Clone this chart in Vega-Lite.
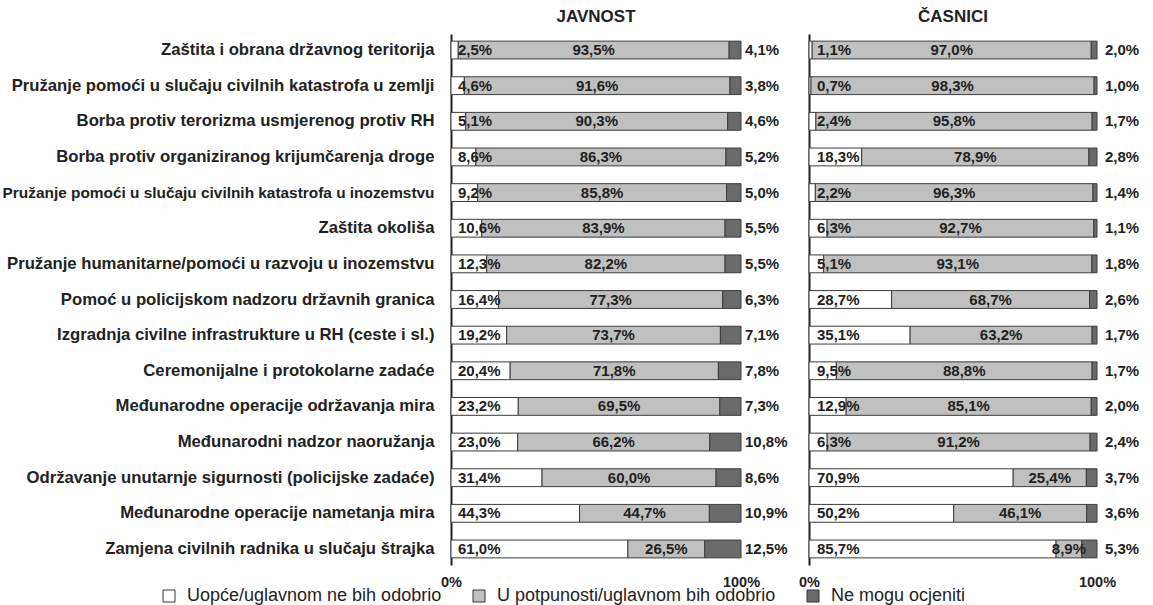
{
  "$schema": "https://vega.github.io/schema/vega-lite/v6.json",
  "background": "white",
  "padding": {"left": 2, "top": 8, "right": 5, "bottom": 0},
  "config": {
    "font": "Liberation Sans",
    "view": {"stroke": null},
    "concat": {"spacing": 10}
  },
  "datasets": {
    "d": [
      {"group": "JAVNOST", "category": "Zaštita i obrana državnog teritorija", "series": "Uopće/uglavnom ne bih odobrio", "order": 1, "value": 2.5},
      {"group": "JAVNOST", "category": "Zaštita i obrana državnog teritorija", "series": "U potpunosti/uglavnom bih odobrio", "order": 2, "value": 93.5},
      {"group": "JAVNOST", "category": "Zaštita i obrana državnog teritorija", "series": "Ne mogu ocjeniti", "order": 3, "value": 4.1},
      {"group": "JAVNOST", "category": "Pružanje pomoći u slučaju civilnih katastrofa u zemlji", "series": "Uopće/uglavnom ne bih odobrio", "order": 1, "value": 4.6},
      {"group": "JAVNOST", "category": "Pružanje pomoći u slučaju civilnih katastrofa u zemlji", "series": "U potpunosti/uglavnom bih odobrio", "order": 2, "value": 91.6},
      {"group": "JAVNOST", "category": "Pružanje pomoći u slučaju civilnih katastrofa u zemlji", "series": "Ne mogu ocjeniti", "order": 3, "value": 3.8},
      {"group": "JAVNOST", "category": "Borba protiv terorizma usmjerenog protiv RH", "series": "Uopće/uglavnom ne bih odobrio", "order": 1, "value": 5.1},
      {"group": "JAVNOST", "category": "Borba protiv terorizma usmjerenog protiv RH", "series": "U potpunosti/uglavnom bih odobrio", "order": 2, "value": 90.3},
      {"group": "JAVNOST", "category": "Borba protiv terorizma usmjerenog protiv RH", "series": "Ne mogu ocjeniti", "order": 3, "value": 4.6},
      {"group": "JAVNOST", "category": "Borba protiv organiziranog krijumčarenja droge", "series": "Uopće/uglavnom ne bih odobrio", "order": 1, "value": 8.6},
      {"group": "JAVNOST", "category": "Borba protiv organiziranog krijumčarenja droge", "series": "U potpunosti/uglavnom bih odobrio", "order": 2, "value": 86.3},
      {"group": "JAVNOST", "category": "Borba protiv organiziranog krijumčarenja droge", "series": "Ne mogu ocjeniti", "order": 3, "value": 5.2},
      {"group": "JAVNOST", "category": "Pružanje pomoći u slučaju civilnih katastrofa u inozemstvu", "series": "Uopće/uglavnom ne bih odobrio", "order": 1, "value": 9.2},
      {"group": "JAVNOST", "category": "Pružanje pomoći u slučaju civilnih katastrofa u inozemstvu", "series": "U potpunosti/uglavnom bih odobrio", "order": 2, "value": 85.8},
      {"group": "JAVNOST", "category": "Pružanje pomoći u slučaju civilnih katastrofa u inozemstvu", "series": "Ne mogu ocjeniti", "order": 3, "value": 5.0},
      {"group": "JAVNOST", "category": "Zaštita okoliša", "series": "Uopće/uglavnom ne bih odobrio", "order": 1, "value": 10.6},
      {"group": "JAVNOST", "category": "Zaštita okoliša", "series": "U potpunosti/uglavnom bih odobrio", "order": 2, "value": 83.9},
      {"group": "JAVNOST", "category": "Zaštita okoliša", "series": "Ne mogu ocjeniti", "order": 3, "value": 5.5},
      {"group": "JAVNOST", "category": "Pružanje humanitarne/pomoći u razvoju u inozemstvu", "series": "Uopće/uglavnom ne bih odobrio", "order": 1, "value": 12.3},
      {"group": "JAVNOST", "category": "Pružanje humanitarne/pomoći u razvoju u inozemstvu", "series": "U potpunosti/uglavnom bih odobrio", "order": 2, "value": 82.2},
      {"group": "JAVNOST", "category": "Pružanje humanitarne/pomoći u razvoju u inozemstvu", "series": "Ne mogu ocjeniti", "order": 3, "value": 5.5},
      {"group": "JAVNOST", "category": "Pomoć u policijskom nadzoru državnih granica", "series": "Uopće/uglavnom ne bih odobrio", "order": 1, "value": 16.4},
      {"group": "JAVNOST", "category": "Pomoć u policijskom nadzoru državnih granica", "series": "U potpunosti/uglavnom bih odobrio", "order": 2, "value": 77.3},
      {"group": "JAVNOST", "category": "Pomoć u policijskom nadzoru državnih granica", "series": "Ne mogu ocjeniti", "order": 3, "value": 6.3},
      {"group": "JAVNOST", "category": "Izgradnja civilne infrastrukture u RH (ceste i sl.)", "series": "Uopće/uglavnom ne bih odobrio", "order": 1, "value": 19.2},
      {"group": "JAVNOST", "category": "Izgradnja civilne infrastrukture u RH (ceste i sl.)", "series": "U potpunosti/uglavnom bih odobrio", "order": 2, "value": 73.7},
      {"group": "JAVNOST", "category": "Izgradnja civilne infrastrukture u RH (ceste i sl.)", "series": "Ne mogu ocjeniti", "order": 3, "value": 7.1},
      {"group": "JAVNOST", "category": "Ceremonijalne i protokolarne zadaće", "series": "Uopće/uglavnom ne bih odobrio", "order": 1, "value": 20.4},
      {"group": "JAVNOST", "category": "Ceremonijalne i protokolarne zadaće", "series": "U potpunosti/uglavnom bih odobrio", "order": 2, "value": 71.8},
      {"group": "JAVNOST", "category": "Ceremonijalne i protokolarne zadaće", "series": "Ne mogu ocjeniti", "order": 3, "value": 7.8},
      {"group": "JAVNOST", "category": "Međunarodne operacije održavanja mira", "series": "Uopće/uglavnom ne bih odobrio", "order": 1, "value": 23.2},
      {"group": "JAVNOST", "category": "Međunarodne operacije održavanja mira", "series": "U potpunosti/uglavnom bih odobrio", "order": 2, "value": 69.5},
      {"group": "JAVNOST", "category": "Međunarodne operacije održavanja mira", "series": "Ne mogu ocjeniti", "order": 3, "value": 7.3},
      {"group": "JAVNOST", "category": "Međunarodni nadzor naoružanja", "series": "Uopće/uglavnom ne bih odobrio", "order": 1, "value": 23.0},
      {"group": "JAVNOST", "category": "Međunarodni nadzor naoružanja", "series": "U potpunosti/uglavnom bih odobrio", "order": 2, "value": 66.2},
      {"group": "JAVNOST", "category": "Međunarodni nadzor naoružanja", "series": "Ne mogu ocjeniti", "order": 3, "value": 10.8},
      {"group": "JAVNOST", "category": "Održavanje unutarnje sigurnosti (policijske zadaće)", "series": "Uopće/uglavnom ne bih odobrio", "order": 1, "value": 31.4},
      {"group": "JAVNOST", "category": "Održavanje unutarnje sigurnosti (policijske zadaće)", "series": "U potpunosti/uglavnom bih odobrio", "order": 2, "value": 60.0},
      {"group": "JAVNOST", "category": "Održavanje unutarnje sigurnosti (policijske zadaće)", "series": "Ne mogu ocjeniti", "order": 3, "value": 8.6},
      {"group": "JAVNOST", "category": "Međunarodne operacije nametanja mira", "series": "Uopće/uglavnom ne bih odobrio", "order": 1, "value": 44.3},
      {"group": "JAVNOST", "category": "Međunarodne operacije nametanja mira", "series": "U potpunosti/uglavnom bih odobrio", "order": 2, "value": 44.7},
      {"group": "JAVNOST", "category": "Međunarodne operacije nametanja mira", "series": "Ne mogu ocjeniti", "order": 3, "value": 10.9},
      {"group": "JAVNOST", "category": "Zamjena civilnih radnika u slučaju štrajka", "series": "Uopće/uglavnom ne bih odobrio", "order": 1, "value": 61.0},
      {"group": "JAVNOST", "category": "Zamjena civilnih radnika u slučaju štrajka", "series": "U potpunosti/uglavnom bih odobrio", "order": 2, "value": 26.5},
      {"group": "JAVNOST", "category": "Zamjena civilnih radnika u slučaju štrajka", "series": "Ne mogu ocjeniti", "order": 3, "value": 12.5},

      {"group": "ČASNICI", "category": "Zaštita i obrana državnog teritorija", "series": "Uopće/uglavnom ne bih odobrio", "order": 1, "value": 1.1},
      {"group": "ČASNICI", "category": "Zaštita i obrana državnog teritorija", "series": "U potpunosti/uglavnom bih odobrio", "order": 2, "value": 97.0},
      {"group": "ČASNICI", "category": "Zaštita i obrana državnog teritorija", "series": "Ne mogu ocjeniti", "order": 3, "value": 2.0},
      {"group": "ČASNICI", "category": "Pružanje pomoći u slučaju civilnih katastrofa u zemlji", "series": "Uopće/uglavnom ne bih odobrio", "order": 1, "value": 0.7},
      {"group": "ČASNICI", "category": "Pružanje pomoći u slučaju civilnih katastrofa u zemlji", "series": "U potpunosti/uglavnom bih odobrio", "order": 2, "value": 98.3},
      {"group": "ČASNICI", "category": "Pružanje pomoći u slučaju civilnih katastrofa u zemlji", "series": "Ne mogu ocjeniti", "order": 3, "value": 1.0},
      {"group": "ČASNICI", "category": "Borba protiv terorizma usmjerenog protiv RH", "series": "Uopće/uglavnom ne bih odobrio", "order": 1, "value": 2.4},
      {"group": "ČASNICI", "category": "Borba protiv terorizma usmjerenog protiv RH", "series": "U potpunosti/uglavnom bih odobrio", "order": 2, "value": 95.8},
      {"group": "ČASNICI", "category": "Borba protiv terorizma usmjerenog protiv RH", "series": "Ne mogu ocjeniti", "order": 3, "value": 1.7},
      {"group": "ČASNICI", "category": "Borba protiv organiziranog krijumčarenja droge", "series": "Uopće/uglavnom ne bih odobrio", "order": 1, "value": 18.3},
      {"group": "ČASNICI", "category": "Borba protiv organiziranog krijumčarenja droge", "series": "U potpunosti/uglavnom bih odobrio", "order": 2, "value": 78.9},
      {"group": "ČASNICI", "category": "Borba protiv organiziranog krijumčarenja droge", "series": "Ne mogu ocjeniti", "order": 3, "value": 2.8},
      {"group": "ČASNICI", "category": "Pružanje pomoći u slučaju civilnih katastrofa u inozemstvu", "series": "Uopće/uglavnom ne bih odobrio", "order": 1, "value": 2.2},
      {"group": "ČASNICI", "category": "Pružanje pomoći u slučaju civilnih katastrofa u inozemstvu", "series": "U potpunosti/uglavnom bih odobrio", "order": 2, "value": 96.3},
      {"group": "ČASNICI", "category": "Pružanje pomoći u slučaju civilnih katastrofa u inozemstvu", "series": "Ne mogu ocjeniti", "order": 3, "value": 1.4},
      {"group": "ČASNICI", "category": "Zaštita okoliša", "series": "Uopće/uglavnom ne bih odobrio", "order": 1, "value": 6.3},
      {"group": "ČASNICI", "category": "Zaštita okoliša", "series": "U potpunosti/uglavnom bih odobrio", "order": 2, "value": 92.7},
      {"group": "ČASNICI", "category": "Zaštita okoliša", "series": "Ne mogu ocjeniti", "order": 3, "value": 1.1},
      {"group": "ČASNICI", "category": "Pružanje humanitarne/pomoći u razvoju u inozemstvu", "series": "Uopće/uglavnom ne bih odobrio", "order": 1, "value": 5.1},
      {"group": "ČASNICI", "category": "Pružanje humanitarne/pomoći u razvoju u inozemstvu", "series": "U potpunosti/uglavnom bih odobrio", "order": 2, "value": 93.1},
      {"group": "ČASNICI", "category": "Pružanje humanitarne/pomoći u razvoju u inozemstvu", "series": "Ne mogu ocjeniti", "order": 3, "value": 1.8},
      {"group": "ČASNICI", "category": "Pomoć u policijskom nadzoru državnih granica", "series": "Uopće/uglavnom ne bih odobrio", "order": 1, "value": 28.7},
      {"group": "ČASNICI", "category": "Pomoć u policijskom nadzoru državnih granica", "series": "U potpunosti/uglavnom bih odobrio", "order": 2, "value": 68.7},
      {"group": "ČASNICI", "category": "Pomoć u policijskom nadzoru državnih granica", "series": "Ne mogu ocjeniti", "order": 3, "value": 2.6},
      {"group": "ČASNICI", "category": "Izgradnja civilne infrastrukture u RH (ceste i sl.)", "series": "Uopće/uglavnom ne bih odobrio", "order": 1, "value": 35.1},
      {"group": "ČASNICI", "category": "Izgradnja civilne infrastrukture u RH (ceste i sl.)", "series": "U potpunosti/uglavnom bih odobrio", "order": 2, "value": 63.2},
      {"group": "ČASNICI", "category": "Izgradnja civilne infrastrukture u RH (ceste i sl.)", "series": "Ne mogu ocjeniti", "order": 3, "value": 1.7},
      {"group": "ČASNICI", "category": "Ceremonijalne i protokolarne zadaće", "series": "Uopće/uglavnom ne bih odobrio", "order": 1, "value": 9.5},
      {"group": "ČASNICI", "category": "Ceremonijalne i protokolarne zadaće", "series": "U potpunosti/uglavnom bih odobrio", "order": 2, "value": 88.8},
      {"group": "ČASNICI", "category": "Ceremonijalne i protokolarne zadaće", "series": "Ne mogu ocjeniti", "order": 3, "value": 1.7},
      {"group": "ČASNICI", "category": "Međunarodne operacije održavanja mira", "series": "Uopće/uglavnom ne bih odobrio", "order": 1, "value": 12.9},
      {"group": "ČASNICI", "category": "Međunarodne operacije održavanja mira", "series": "U potpunosti/uglavnom bih odobrio", "order": 2, "value": 85.1},
      {"group": "ČASNICI", "category": "Međunarodne operacije održavanja mira", "series": "Ne mogu ocjeniti", "order": 3, "value": 2.0},
      {"group": "ČASNICI", "category": "Međunarodni nadzor naoružanja", "series": "Uopće/uglavnom ne bih odobrio", "order": 1, "value": 6.3},
      {"group": "ČASNICI", "category": "Međunarodni nadzor naoružanja", "series": "U potpunosti/uglavnom bih odobrio", "order": 2, "value": 91.2},
      {"group": "ČASNICI", "category": "Međunarodni nadzor naoružanja", "series": "Ne mogu ocjeniti", "order": 3, "value": 2.4},
      {"group": "ČASNICI", "category": "Održavanje unutarnje sigurnosti (policijske zadaće)", "series": "Uopće/uglavnom ne bih odobrio", "order": 1, "value": 70.9},
      {"group": "ČASNICI", "category": "Održavanje unutarnje sigurnosti (policijske zadaće)", "series": "U potpunosti/uglavnom bih odobrio", "order": 2, "value": 25.4},
      {"group": "ČASNICI", "category": "Održavanje unutarnje sigurnosti (policijske zadaće)", "series": "Ne mogu ocjeniti", "order": 3, "value": 3.7},
      {"group": "ČASNICI", "category": "Međunarodne operacije nametanja mira", "series": "Uopće/uglavnom ne bih odobrio", "order": 1, "value": 50.2},
      {"group": "ČASNICI", "category": "Međunarodne operacije nametanja mira", "series": "U potpunosti/uglavnom bih odobrio", "order": 2, "value": 46.1},
      {"group": "ČASNICI", "category": "Međunarodne operacije nametanja mira", "series": "Ne mogu ocjeniti", "order": 3, "value": 3.6},
      {"group": "ČASNICI", "category": "Zamjena civilnih radnika u slučaju štrajka", "series": "Uopće/uglavnom ne bih odobrio", "order": 1, "value": 85.7},
      {"group": "ČASNICI", "category": "Zamjena civilnih radnika u slučaju štrajka", "series": "U potpunosti/uglavnom bih odobrio", "order": 2, "value": 8.9},
      {"group": "ČASNICI", "category": "Zamjena civilnih radnika u slučaju štrajka", "series": "Ne mogu ocjeniti", "order": 3, "value": 5.3}
    ]
  },
  "hconcat": [
    {
      "width": 290,
      "height": 531,
      "title": {"text": "JAVNOST", "fontSize": 17, "fontWeight": "bold", "color": "#222", "offset": 8},
      "data": {"name": "d"},
      "transform": [
        {"filter": "datum.group === 'JAVNOST'"},
        {"stack": "value", "groupby": ["category"], "sort": [{"field": "order"}], "offset": "normalize", "as": ["x0", "x1"]},
        {"calculate": "(datum.x0 + datum.x1) / 2", "as": "xm"},
        {"calculate": "replace(format(datum.value, '.1f'), '.', ',') + '%'", "as": "lab"}
      ],
      "encoding": {
        "y": {
          "field": "category", "type": "nominal",
          "sort": ["Zaštita i obrana državnog teritorija", "Pružanje pomoći u slučaju civilnih katastrofa u zemlji", "Borba protiv terorizma usmjerenog protiv RH", "Borba protiv organiziranog krijumčarenja droge", "Pružanje pomoći u slučaju civilnih katastrofa u inozemstvu", "Zaštita okoliša", "Pružanje humanitarne/pomoći u razvoju u inozemstvu", "Pomoć u policijskom nadzoru državnih granica", "Izgradnja civilne infrastrukture u RH (ceste i sl.)", "Ceremonijalne i protokolarne zadaće", "Međunarodne operacije održavanja mira", "Međunarodni nadzor naoružanja", "Održavanje unutarnje sigurnosti (policijske zadaće)", "Međunarodne operacije nametanja mira", "Zamjena civilnih radnika u slučaju štrajka"],
          "scale": {"paddingInner": 0.5, "paddingOuter": 0.2},
          "axis": {
            "title": null, "ticks": false, "domain": true, "domainColor": "#222", "domainWidth": 2,
            "labelFontSize": {"condition": {"test": "datum.value === 'Pružanje pomoći u slučaju civilnih katastrofa u inozemstvu'", "value": 15.4}, "value": 16.7},
            "labelFontWeight": "bold", "labelColor": "#222", "labelPadding": 17, "labelLimit": 600
          }
        }
      },
      "layer": [
        {
          "mark": {"type": "bar", "stroke": "#3c3c3c", "strokeWidth": 1},
          "encoding": {
            "x": {"field": "x0", "type": "quantitative", "scale": {"domain": [0, 1]},
              "axis": {"values": [0, 1], "format": ".0%", "title": null, "domain": false, "ticks": false, "grid": false, "labelFlush": false, "labelFontWeight": "bold", "labelFontSize": 14.5, "labelColor": "#222", "labelPadding": 10}},
            "x2": {"field": "x1"},
            "color": {"field": "series", "type": "nominal",
              "scale": {"domain": ["Uopće/uglavnom ne bih odobrio", "U potpunosti/uglavnom bih odobrio", "Ne mogu ocjeniti"], "range": ["#ffffff", "#c0c0c0", "#6a6a6a"]},
              "legend": {"orient": "none", "legendX": -291, "legendY": 553, "direction": "horizontal", "title": null, "symbolType": "square", "symbolSize": 144, "symbolStrokeColor": "#333", "symbolStrokeWidth": 1, "symbolOpacity": 1, "labelFontSize": 18, "labelColor": "#222", "labelOffset": 9, "columnPadding": 28, "labelLimit": 500}}
          }
        },
        {
          "transform": [{"filter": "datum.order === 1"}],
          "mark": {"type": "text", "align": "left", "dx": 7, "fontWeight": "bold", "fontSize": 15, "color": "#222"},
          "encoding": {"x": {"field": "x0", "type": "quantitative"}, "text": {"field": "lab"}}
        },
        {
          "transform": [{"filter": "datum.order === 2"}],
          "mark": {"type": "text", "align": "center", "fontWeight": "bold", "fontSize": 15, "color": "#222"},
          "encoding": {"x": {"field": "xm", "type": "quantitative"}, "text": {"field": "lab"}}
        },
        {
          "transform": [{"filter": "datum.order === 3"}],
          "mark": {"type": "text", "align": "left", "dx": 4, "fontWeight": "bold", "fontSize": 15, "color": "#222"},
          "encoding": {"x": {"field": "x1", "type": "quantitative"}, "text": {"field": "lab"}}
        }
      ]
    },
    {
      "width": 288,
      "height": 531,
      "title": {"text": "ČASNICI", "fontSize": 17, "fontWeight": "bold", "color": "#222", "offset": 8},
      "data": {"name": "d"},
      "transform": [
        {"filter": "datum.group === 'ČASNICI'"},
        {"stack": "value", "groupby": ["category"], "sort": [{"field": "order"}], "offset": "normalize", "as": ["x0", "x1"]},
        {"calculate": "(datum.x0 + datum.x1) / 2", "as": "xm"},
        {"calculate": "replace(format(datum.value, '.1f'), '.', ',') + '%'", "as": "lab"}
      ],
      "encoding": {
        "y": {
          "field": "category", "type": "nominal",
          "sort": ["Zaštita i obrana državnog teritorija", "Pružanje pomoći u slučaju civilnih katastrofa u zemlji", "Borba protiv terorizma usmjerenog protiv RH", "Borba protiv organiziranog krijumčarenja droge", "Pružanje pomoći u slučaju civilnih katastrofa u inozemstvu", "Zaštita okoliša", "Pružanje humanitarne/pomoći u razvoju u inozemstvu", "Pomoć u policijskom nadzoru državnih granica", "Izgradnja civilne infrastrukture u RH (ceste i sl.)", "Ceremonijalne i protokolarne zadaće", "Međunarodne operacije održavanja mira", "Međunarodni nadzor naoružanja", "Održavanje unutarnje sigurnosti (policijske zadaće)", "Međunarodne operacije nametanja mira", "Zamjena civilnih radnika u slučaju štrajka"],
          "scale": {"paddingInner": 0.5, "paddingOuter": 0.2},
          "axis": {"title": null, "ticks": false, "labels": false, "domain": true, "domainColor": "#222", "domainWidth": 2}
        }
      },
      "layer": [
        {
          "mark": {"type": "bar", "stroke": "#3c3c3c", "strokeWidth": 1},
          "encoding": {
            "x": {"field": "x0", "type": "quantitative", "scale": {"domain": [0, 1]},
              "axis": {"values": [0, 1], "format": ".0%", "title": null, "domain": false, "ticks": false, "grid": false, "labelFlush": false, "labelFontWeight": "bold", "labelFontSize": 14.5, "labelColor": "#222", "labelPadding": 10}},
            "x2": {"field": "x1"},
            "color": {"field": "series", "type": "nominal",
              "scale": {"domain": ["Uopće/uglavnom ne bih odobrio", "U potpunosti/uglavnom bih odobrio", "Ne mogu ocjeniti"], "range": ["#ffffff", "#c0c0c0", "#6a6a6a"]},
              "legend": {"orient": "none", "legendX": -291, "legendY": 553, "direction": "horizontal", "title": null, "symbolType": "square", "symbolSize": 144, "symbolStrokeColor": "#333", "symbolStrokeWidth": 1, "symbolOpacity": 1, "labelFontSize": 18, "labelColor": "#222", "labelOffset": 9, "columnPadding": 28, "labelLimit": 500}}
          }
        },
        {
          "transform": [{"filter": "datum.order === 1"}],
          "mark": {"type": "text", "align": "left", "dx": 8, "fontWeight": "bold", "fontSize": 15, "color": "#222"},
          "encoding": {"x": {"field": "x0", "type": "quantitative"}, "text": {"field": "lab"}}
        },
        {
          "transform": [{"filter": "datum.order === 2"}],
          "mark": {"type": "text", "align": "center", "fontWeight": "bold", "fontSize": 15, "color": "#222"},
          "encoding": {"x": {"field": "xm", "type": "quantitative"}, "text": {"field": "lab"}}
        },
        {
          "transform": [{"filter": "datum.order === 3"}],
          "mark": {"type": "text", "align": "left", "dx": 8, "fontWeight": "bold", "fontSize": 15, "color": "#222"},
          "encoding": {"x": {"field": "x1", "type": "quantitative"}, "text": {"field": "lab"}}
        }
      ]
    }
  ],
  "resolve": {"scale": {"color": "shared"}, "legend": {"color": "shared"}}
}
